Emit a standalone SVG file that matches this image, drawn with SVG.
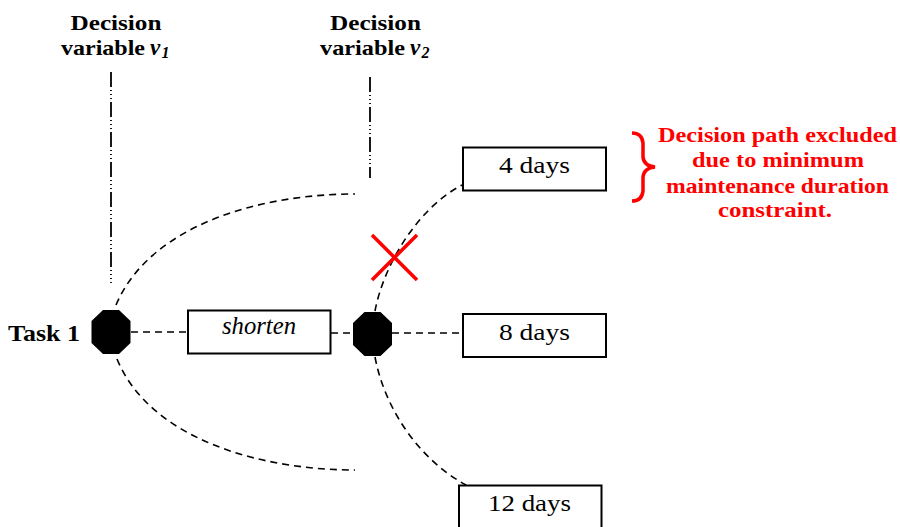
<svg xmlns="http://www.w3.org/2000/svg" width="900" height="527" viewBox="0 0 900 527">
  <style>
    .lbl { font-family: "Liberation Serif", "Times New Roman", serif; fill: #000; }
    .hdr { font-size: 22px; font-weight: bold; text-anchor: start; }
    .box { fill: #fff; stroke: #000; stroke-width: 2; }
    .boxtxt { font-size: 24px; }
    .path { fill: none; stroke: #000; stroke-width: 1.6; stroke-dasharray: 7 5; }
    .axis { fill: none; stroke: #000; stroke-width: 1.8; stroke-dasharray: 15 3 1 3 1 3 1 3; }
    .note { font-family: "Liberation Serif", "Times New Roman", serif; font-size: 22px; font-weight: bold; fill: #ff0000; }
    .red { fill: none; stroke: #ff0000; stroke-width: 3.5; }
  </style>
  <defs>
    <polygon id="octagon" points="-8,-22 8,-22 19.5,-11 19.5,11 8,22 -8,22 -19.5,11 -19.5,-11" fill="#000"/>
  </defs>

  <!-- column headings for the two decision variables -->
  <g id="heading-v1" class="lbl hdr">
    <text x="70.5" y="30" textLength="91" lengthAdjust="spacingAndGlyphs">Decision</text>
    <text x="61" y="55" textLength="84" lengthAdjust="spacingAndGlyphs">variable</text>
    <text x="150" y="55" font-size="23" font-style="italic">v</text>
    <text x="161.5" y="58" font-size="16" font-style="italic">1</text>
  </g>
  <g id="heading-v2" class="lbl hdr">
    <text x="330" y="30" textLength="91" lengthAdjust="spacingAndGlyphs">Decision</text>
    <text x="320" y="55" textLength="85" lengthAdjust="spacingAndGlyphs">variable</text>
    <text x="410" y="55" font-size="23" font-style="italic">v</text>
    <text x="421.5" y="58" font-size="16" font-style="italic">2</text>
  </g>

  <!-- connectors: decision axes and branch paths -->
  <g id="connectors">
    <line class="axis" x1="111" y1="72" x2="111" y2="283"/>
    <line class="axis" x1="370" y1="77" x2="370" y2="178"/>
    <path class="path" d="M116,305 C150,225 260,194 355,194"/>
    <path class="path" d="M117,359 C150,439 260,470 355,470"/>
    <line class="path" x1="131" y1="332" x2="188" y2="332"/>
    <line class="path" x1="331" y1="333" x2="353" y2="333"/>
    <line class="path" x1="392" y1="333" x2="463" y2="333"/>
    <path class="path" d="M375,311 C383,268 415,210 462,185"/>
    <path class="path" d="M375,357 C385,410 420,460 466,485"/>
  </g>

  <g id="task1">
    <text class="lbl" x="8" y="341" font-size="24" font-weight="bold" textLength="72" lengthAdjust="spacingAndGlyphs">Task 1</text>
    <use href="#octagon" x="111" y="332"/>
  </g>

  <g id="shorten">
    <rect class="box" x="188" y="310.5" width="142.5" height="43"/>
    <text class="lbl" x="222" y="334" font-size="25" font-style="italic" textLength="74" lengthAdjust="spacingAndGlyphs">shorten</text>
  </g>

  <g id="node-v2">
    <use href="#octagon" x="372.5" y="334"/>
  </g>

  <g id="days-4">
    <rect class="box" x="463" y="147.5" width="143" height="43"/>
    <text class="lbl boxtxt" x="499" y="173" textLength="71" lengthAdjust="spacingAndGlyphs">4 days</text>
  </g>
  <g id="days-8">
    <rect class="box" x="463" y="314" width="143" height="43"/>
    <text class="lbl boxtxt" x="499" y="340" textLength="71" lengthAdjust="spacingAndGlyphs">8 days</text>
  </g>
  <g id="days-12">
    <rect class="box" x="459" y="485.5" width="142.5" height="50"/>
    <text class="lbl boxtxt" x="488" y="511" textLength="83" lengthAdjust="spacingAndGlyphs">12 days</text>
  </g>

  <!-- excluded branch mark and explanation -->
  <g id="exclusion">
    <line class="red" x1="372" y1="235" x2="417" y2="280"/>
    <line class="red" x1="372" y1="280" x2="417" y2="235"/>
    <path class="red" d="M632,133 Q642,133 643,143 L643,157 Q644,166 655,167 Q644,168 643,177 L643,191 Q642,201 632,201"/>
    <text class="note" x="658" y="142" textLength="239" lengthAdjust="spacingAndGlyphs">Decision path excluded</text>
    <text class="note" x="692" y="167" textLength="172" lengthAdjust="spacingAndGlyphs">due to minimum</text>
    <text class="note" x="666" y="193" textLength="223" lengthAdjust="spacingAndGlyphs">maintenance duration</text>
    <text class="note" x="718" y="217" textLength="114" lengthAdjust="spacingAndGlyphs">constraint.</text>
  </g>
</svg>
